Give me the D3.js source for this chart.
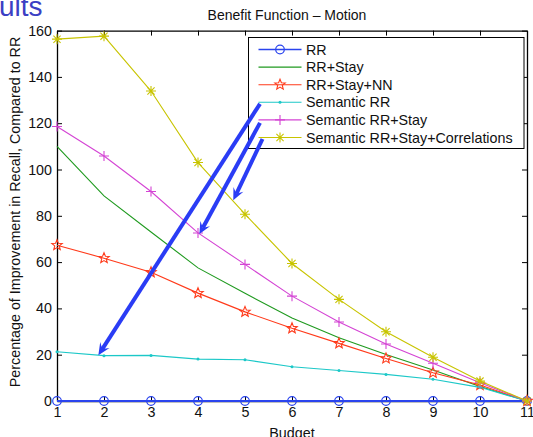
<!DOCTYPE html>
<html>
<head>
<meta charset="utf-8">
<script src="https://cdn.jsdelivr.net/npm/d3@7"></script>
<style>
  body { margin: 0; background: #fff; }
  svg { display: block; font-family: "Liberation Sans", Arial, sans-serif; }
</style>
</head>
<body>
<div id="chart"></div>
<script>
// data
var budget = [1, 2, 3, 4, 5, 6, 7, 8, 9, 10, 11];
var seriesNames = ["RR", "RR+Stay", "RR+Stay+NN", "Semantic RR", "Semantic RR+Stay", "Semantic RR+Stay+Correlations"];
var rr = [0, 0, 0, 0, 0, 0, 0, 0, 0, 0, 0];
var rrStay = [110, 88.6, 73, 57.5, 46.5, 35.9, 27.3, 20.1, 13.4, 6.3, 0];
var rrStayNN = [67.3, 61.7, 55.6, 46.6, 38.5, 31.4, 24.9, 18.4, 12.2, 6.9, 0];
var semRR = [21.3, 19.6, 19.7, 18.1, 17.8, 14.8, 13.2, 11.5, 9.4, 5.9, 0];
var semRRStay = [118.6, 105.8, 90.5, 72.6, 59, 45.3, 34.1, 24.6, 16.3, 7.9, 0];
var semRRStayCorr = [156.3, 157.6, 133.9, 103, 80.7, 59.4, 43.9, 29.9, 18.9, 8.6, 0];
var yTicks = [0, 20, 40, 60, 80, 100, 120, 140, 160];
// arrow tips, in data units (budget, percent)
var arrowTips = [[1.88, 19.8], [4.03, 72.1], [4.75, 86.7]];

var width = 533, height = 437;
var margin = {top: 30.6, right: 6, bottom: 36, left: 57};
var fs = 14.3;

var svg = d3.select("#chart").append("svg")
    .attr("width", width)
    .attr("height", height);

var x = d3.scaleLinear().domain([1, 11]).range([margin.left, width - margin.right]);
var y = d3.scaleLinear().domain([0, 160]).range([height - margin.bottom, margin.top]);

var styles = [
  {color: "#2a44ee", marker: "circle", lw: 2},
  {color: "#1f9a1f", marker: "none", lw: 1.1},
  {color: "#ff3a1a", marker: "star", lw: 1.1},
  {color: "#1cc8c8", marker: "dot", lw: 1.1},
  {color: "#d444d4", marker: "plus", lw: 1.1},
  {color: "#c8c400", marker: "asterisk", lw: 1.1}
];
var allSeries = [rr, rrStay, rrStayNN, semRR, semRRStay, semRRStayCorr];

// slide title fragment
svg.append("text")
  .attr("x", -1)
  .attr("y", 16)
  .attr("font-size", 28)
  .attr("fill", "#3b3fc4")
  .text("ults");

// title
svg.append("text")
  .attr("x", 287)
  .attr("y", 19.5)
  .attr("text-anchor", "middle")
  .attr("font-size", 14)
  .attr("fill", "#111")
  .text("Benefit Function \u2013 Motion");

// axes with inward ticks
var xAxis = svg.append("g")
  .attr("transform", `translate(0, ${y(0)})`)
  .call(d3.axisBottom(x).tickValues(budget).tickFormat(d3.format("d")).tickSizeInner(-5).tickSizeOuter(0).tickPadding(6));
var xAxisTop = svg.append("g")
  .attr("transform", `translate(0, ${y(160)})`)
  .call(d3.axisTop(x).tickValues(budget).tickSizeInner(-5).tickSizeOuter(0).tickFormat(""));
var yAxis = svg.append("g")
  .attr("transform", `translate(${x(1)}, 0)`)
  .call(d3.axisLeft(y).tickValues(yTicks).tickSizeInner(-5).tickSizeOuter(0).tickPadding(5));
var yAxisRight = svg.append("g")
  .attr("transform", `translate(${x(11)}, 0)`)
  .call(d3.axisRight(y).tickValues(yTicks).tickSizeInner(-5).tickSizeOuter(0).tickFormat(""));

svg.selectAll(".domain").attr("stroke", "#000").attr("stroke-width", 1.3);
svg.selectAll(".tick line").attr("stroke", "#000");
svg.selectAll(".tick text").attr("font-size", fs).attr("fill", "#111")
  .attr("font-family", "Liberation Sans, Arial, sans-serif");

// axis labels
svg.append("text")
  .attr("x", 292)
  .attr("y", 437.5)
  .attr("text-anchor", "middle")
  .attr("font-size", fs)
  .attr("fill", "#111")
  .text("Budget");

svg.append("text")
  .attr("transform", "rotate(-90)")
  .attr("x", -212)
  .attr("y", 19.5)
  .attr("text-anchor", "middle")
  .attr("font-size", fs)
  .attr("fill", "#111")
  .text("Percentage of Improvement in Recall, Compared to RR");

// marker drawing
function drawMarker(g, type, color, cx, cy) {
  if (type == "circle") {
    g.append("circle").attr("cx", cx).attr("cy", cy).attr("r", 4.3)
      .attr("fill", "none").attr("stroke", color).attr("stroke-width", 1.2);
  } else if (type == "star") {
    var pts = [];
    for (var k = 0; k < 10; k++) {
      var r = k % 2 == 0 ? 5.5 : 2.4;
      var a = -Math.PI / 2 + k * Math.PI / 5;
      pts.push([cx + r * Math.cos(a), cy + r * Math.sin(a)]);
    }
    g.append("path").attr("d", "M" + pts.join("L") + "Z")
      .attr("fill", "none").attr("stroke", color).attr("stroke-width", 1.1);
  } else if (type == "dot") {
    g.append("circle").attr("cx", cx).attr("cy", cy).attr("r", 1.5).attr("fill", color);
  } else if (type == "plus") {
    g.append("path").attr("d", `M${cx - 5},${cy}H${cx + 5}M${cx},${cy - 5}V${cy + 5}`)
      .attr("stroke", color).attr("stroke-width", 1.1);
  } else if (type == "asterisk") {
    g.append("path").attr("d",
      `M${cx - 5},${cy}H${cx + 5}M${cx},${cy - 5}V${cy + 5}M${cx - 3.6},${cy - 3.6}L${cx + 3.6},${cy + 3.6}M${cx - 3.6},${cy + 3.6}L${cx + 3.6},${cy - 3.6}`)
      .attr("stroke", color).attr("stroke-width", 1.1);
  }
}

var line = d3.line()
  .x(function(d, i) { return x(budget[i]); })
  .y(function(d) { return y(d); });

// draw series
allSeries.forEach(function(vals, s) {
  var st = styles[s];
  var g = svg.append("g");
  g.append("path")
    .datum(vals)
    .attr("d", line)
    .attr("fill", "none")
    .attr("stroke", st.color)
    .attr("stroke-width", st.lw);
  vals.forEach(function(v, i) {
    drawMarker(g, st.marker, st.color, x(budget[i]), y(v));
  });
});

// legend
var lx = 248.5, ly = 37.5, lw = 275.5, lh = 111;
var legend = svg.append("g");
legend.append("rect")
  .attr("x", lx).attr("y", ly).attr("width", lw).attr("height", lh)
  .attr("fill", "#fff").attr("stroke", "#000").attr("stroke-width", 1);

var rowY = function(i) { return ly + 12 + i * 17.6; };
seriesNames.forEach(function(name, i) {
  var st = styles[i];
  legend.append("line")
    .attr("x1", lx + 10).attr("x2", lx + 53)
    .attr("y1", rowY(i)).attr("y2", rowY(i))
    .attr("stroke", st.color).attr("stroke-width", i == 0 ? 1.5 : 1.1);
  drawMarker(legend, st.marker, st.color, lx + 31.5, rowY(i));
  legend.append("text")
    .attr("x", lx + 57.5)
    .attr("y", rowY(i) + 5)
    .attr("font-size", fs)
    .attr("fill", "#111")
    .text(name);
});

// annotation arrows from legend rows to points
var arrowStarts = [[lx + 11.5, rowY(3) + 1.5], [lx + 11.5, rowY(4) + 3], [lx + 14, rowY(5) + 1.5]];
var arrowColor = "#2a3cf5";
arrowTips.forEach(function(t, i) {
  var x0 = arrowStarts[i][0], y0 = arrowStarts[i][1];
  var x1 = x(t[0]), y1 = y(t[1]);
  var ang = Math.atan2(y1 - y0, x1 - x0);
  var hl = 12, hw = 5.5;
  var bx = x1 - hl * Math.cos(ang), by = y1 - hl * Math.sin(ang);
  var nx = x1 - hl * 0.6 * Math.cos(ang), ny = y1 - hl * 0.6 * Math.sin(ang);
  svg.append("line")
    .attr("x1", x0).attr("y1", y0).attr("x2", nx).attr("y2", ny)
    .attr("stroke", arrowColor).attr("stroke-width", 4);
  var p1 = [bx + hw * Math.sin(ang), by - hw * Math.cos(ang)];
  var p2 = [bx - hw * Math.sin(ang), by + hw * Math.cos(ang)];
  svg.append("path")
    .attr("d", `M${x1},${y1}L${p1}L${nx},${ny}L${p2}Z`)
    .attr("fill", arrowColor);
});
</script>
</body>
</html>
